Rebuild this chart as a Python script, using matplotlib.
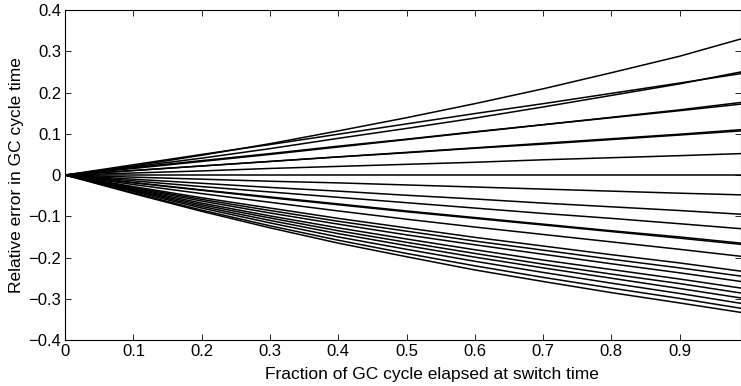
import numpy as np
import matplotlib
matplotlib.use("Agg")
import matplotlib.pyplot as plt

plt.rcParams["font.family"] = ["Liberation Sans", "DejaVu Sans"]

# fraction of GC cycle elapsed (sample points)
frac = [0, 0.1, 0.2, 0.3, 0.4, 0.5, 0.6, 0.7, 0.8, 0.9, 0.99]

# relative error curves, one list per curve
err_curves = [
	[0, 0.022, 0.048, 0.076, 0.107, 0.139, 0.173, 0.209, 0.248, 0.288, 0.330],
	[0, 0.020, 0.041, 0.064, 0.089, 0.113, 0.138, 0.165, 0.193, 0.221, 0.250],
	[0, 0.025, 0.050, 0.074, 0.099, 0.124, 0.149, 0.173, 0.198, 0.223, 0.246],
	[0, 0.016, 0.033, 0.050, 0.068, 0.086, 0.104, 0.122, 0.140, 0.158, 0.176],
	[0, 0.018, 0.035, 0.052, 0.070, 0.087, 0.105, 0.122, 0.139, 0.156, 0.172],
	[0, 0.011, 0.022, 0.033, 0.044, 0.055, 0.066, 0.077, 0.088, 0.099, 0.110],
	[0, 0.011, 0.022, 0.033, 0.044, 0.054, 0.065, 0.075, 0.086, 0.097, 0.107],
	[0, 0.005, 0.010, 0.016, 0.021, 0.026, 0.031, 0.037, 0.042, 0.047, 0.052],
	[0, 0, 0, 0, 0, 0, 0, 0, 0, 0, 0],
	[0, -0.005, -0.010, -0.015, -0.019, -0.024, -0.029, -0.034, -0.039, -0.044, -0.048],
	[0, -0.010, -0.020, -0.030, -0.039, -0.049, -0.058, -0.068, -0.077, -0.086, -0.095],
	[0, -0.014, -0.028, -0.041, -0.054, -0.067, -0.080, -0.093, -0.105, -0.118, -0.130],
	[0, -0.018, -0.036, -0.053, -0.070, -0.087, -0.103, -0.119, -0.135, -0.150, -0.165],
	[0, -0.019, -0.037, -0.055, -0.072, -0.089, -0.105, -0.121, -0.137, -0.153, -0.168],
	[0, -0.023, -0.045, -0.066, -0.087, -0.107, -0.126, -0.144, -0.162, -0.180, -0.197],
	[0, -0.028, -0.055, -0.080, -0.105, -0.128, -0.151, -0.172, -0.193, -0.213, -0.233],
	[0, -0.030, -0.059, -0.086, -0.112, -0.136, -0.160, -0.182, -0.204, -0.225, -0.245],
	[0, -0.032, -0.063, -0.092, -0.119, -0.145, -0.169, -0.192, -0.215, -0.237, -0.258],
	[0, -0.034, -0.068, -0.099, -0.128, -0.155, -0.181, -0.206, -0.229, -0.252, -0.274],
	[0, -0.036, -0.072, -0.104, -0.135, -0.163, -0.190, -0.216, -0.240, -0.263, -0.286],
	[0, -0.038, -0.076, -0.110, -0.142, -0.171, -0.199, -0.225, -0.250, -0.275, -0.298],
	[0, -0.040, -0.080, -0.116, -0.150, -0.180, -0.209, -0.236, -0.262, -0.287, -0.311],
	[0, -0.043, -0.085, -0.123, -0.158, -0.190, -0.220, -0.248, -0.274, -0.299, -0.323],
	[0, -0.045, -0.088, -0.128, -0.165, -0.198, -0.230, -0.258, -0.285, -0.310, -0.333],
]

xticks = [0, 0.1, 0.2, 0.3, 0.4, 0.5, 0.6, 0.7, 0.8, 0.9]
yticks = [-0.4, -0.3, -0.2, -0.1, 0, 0.1, 0.2, 0.3, 0.4]

fig = plt.figure(figsize=(7.41, 3.86), dpi=100)
ax = fig.add_axes([0.088, 0.119, 0.912, 0.855])

for e in err_curves:
	ax.plot(frac, e, color="black", lw=1.1)

ax.set_xlim(0, 0.99)
ax.set_ylim(-0.4, 0.4)
ax.set_xticks(xticks)
ax.set_xticklabels(["%g" % t for t in xticks])
ax.set_yticks(yticks)
ax.set_yticklabels([("%g" % t).replace("-", "\u2212") for t in yticks])
ax.tick_params(direction="in", top=True, right=True, labelsize=12, length=4, width=0.6, pad=3)
for s in ax.spines.values():
	s.set_linewidth(0.8)

ax.set_xlabel("Fraction of GC cycle elapsed at switch time", fontsize=12.5)
ax.xaxis.set_label_coords(0.542, -0.082)
ax.set_ylabel("Relative error in GC cycle time", fontsize=12.5, labelpad=3)

plt.savefig("out.png", dpi=100)
